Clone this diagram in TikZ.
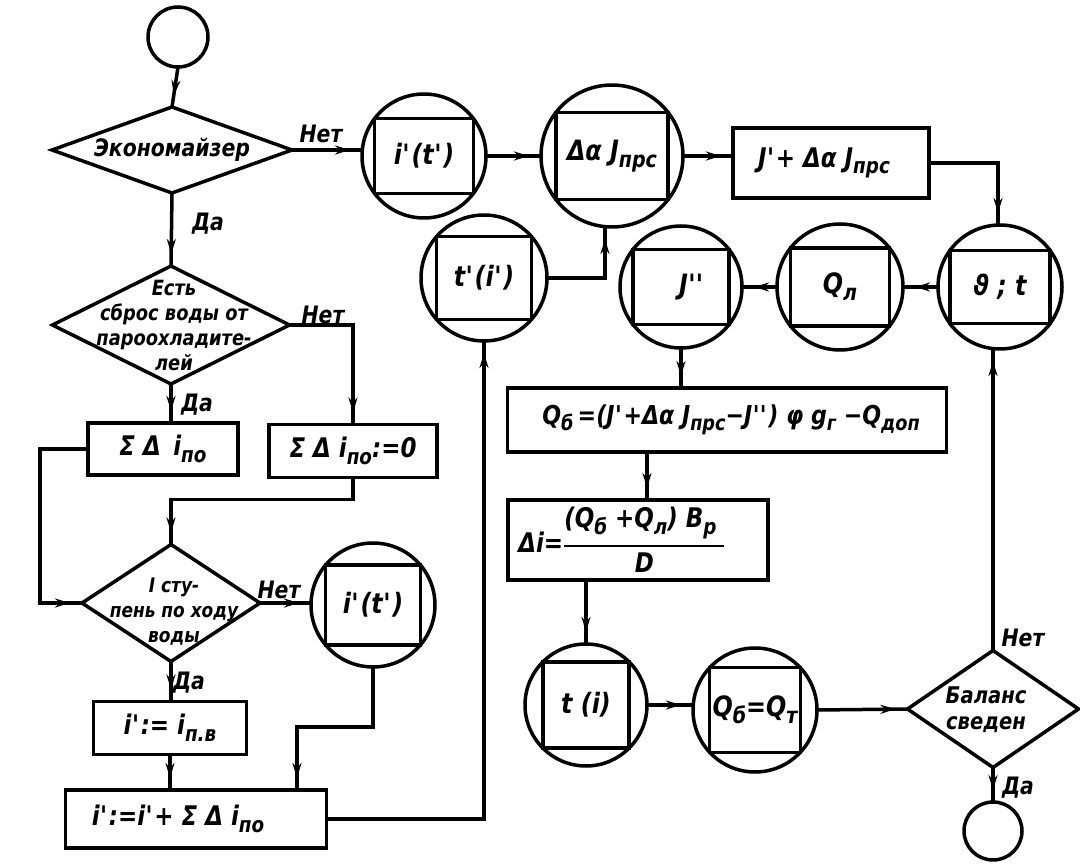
\documentclass[tikz,border=0pt]{standalone}
\usepackage{fontspec}
\newfontfamily\gost[FakeStretch=0.85]{DejaVu Sans}
\usetikzlibrary{shapes.geometric,arrows.meta,decorations.markings,calc}
\newcommand\lo[1]{\raisebox{-0.45ex}{\scalebox{0.8}{#1}}}
\newcommand\pr{\kern0.5pt\textquotesingle\kern0.5pt}
\newcommand\ppr{\kern0.5pt\textquotesingle\kern-1pt\textquotesingle\kern0.5pt}
\newcommand\cbox[5]{%
  \node[cnode,minimum size=#3pt] (#1) at (#2) {};
  \pgfmathtruncatemacro\swang{180+#4}%
  \draw[ln] (#1.\swang) rectangle (#1.#4);
  \node[ctxt] (#1-t) at (#1) {#5};}
\tikzset{
  ln/.style={line width=3.5pt},
  cnode/.style={circle,draw,ln,inner sep=0pt,outer sep=0pt},
  bx/.style={rectangle,draw,ln,inner sep=0pt,outer sep=0pt,font=\gost\bfseries\itshape\fontsize{27}{30}\selectfont},
  dia/.style={diamond,draw,ln,inner sep=0pt,outer sep=0pt},
  txt/.style={font=\gost\bfseries\itshape\fontsize{24}{28}\selectfont,inner sep=0pt},
  ctxt/.style={font=\gost\bfseries\itshape\fontsize{28}{30}\selectfont,inner sep=0pt},
  dtxt/.style={font=\gost\bfseries\itshape\fontsize{21}{25}\selectfont,inner sep=0pt,align=center},
  lbl/.style={font=\gost\bfseries\itshape\fontsize{24}{26}\selectfont,inner sep=0pt},
  arr/.style={ln,postaction={decorate},decoration={markings,mark=at position -12pt with {\arrow{Stealth[length=15pt,width=9pt]}}}},
}
\begin{document}
\begin{tikzpicture}[x=1pt,y=-1pt]
\useasboundingbox (0,0) rectangle (1080,866);
% left column
\node[cnode,minimum size=60pt] (start) at (178,37) {};
\node[dia,minimum width=240pt,minimum height=86pt] (eco) at (172,150) {};
\node[txt] (eco-t) at (eco) {Экономайзер};
\node[dia,minimum width=237pt,minimum height=118pt] (ests) at (171,325) {};
\node[dtxt] (ests-t) at (174,325) {Есть\\сброс воды от\\пароохладите-\\лей};
\node[bx,minimum width=150pt,minimum height=52pt] (sum1) at (163,449) {Σ Δ\, i\lo{по}};
\node[bx,minimum width=168pt,minimum height=53pt] (sum0) at (353,451) {Σ Δ i\lo{по}:=0};
\node[dia,minimum width=178pt,minimum height=117pt] (step1) at (171,603) {};
\node[dtxt,font=\gost\bfseries\itshape\fontsize{20}{25}\selectfont] (step1-t) at (174,612) {I сту-\\пень по ходу\\воды};
\cbox{ic2}{373,605}{124}{40}{i\pr(t\pr)}
\node[bx,minimum width=153pt,minimum height=53pt] (ipv) at (170,728) {i\pr:= i\lo{п.в}};
\node[bx,minimum width=261pt,minimum height=58pt] (iplus) at (196,819) {i\pr:=i\pr + Σ Δ i\lo{по}\hspace*{36pt}};
% upper middle
\cbox{ic1}{424,156}{124}{37}{i\pr(t\pr)}
\cbox{daj}{612,156}{142}{38}{Δα J\lo{прс}}
\cbox{tc}{484,278}{126}{41}{t\pr(i\pr)}
\node[bx,minimum width=196pt,minimum height=70pt] (jbox) at (831,163) {J\pr + Δα J\lo{прс}\hspace*{14pt}};
\cbox{jpp}{681,287}{122}{38}{\hspace*{22pt}J\ppr}
\cbox{ql}{840,287}{126}{38}{Q\lo{л}}
\cbox{yat}{1000,287}{124}{36}{ϑ ; t}
\node[bx,minimum width=439pt,minimum height=64pt,font=\gost\bfseries\itshape\fontsize{26}{30}\selectfont] (qb) at (727,420) {\hspace*{8pt}Q\lo{б}\,=(J\pr+Δα J\lo{прс}−J\ppr) φ g\lo{г} −Q\lo{доп}};
\node[bx,minimum width=260pt,minimum height=80pt] (di) at (638,540) {};
\node[bx,draw=none] (di-t) at (622,540) {Δi=$\displaystyle{\hbox{(Q\lo{б} +Q\lo{л}) B\lo{р}\hspace*{8pt}}\above 2pt\hbox{D}}$};
\cbox{ti}{586,705}{122}{45}{t (i)}
\cbox{qq}{755,710}{124}{43}{Q\lo{б}=Q\lo{т}}
\node[dia,minimum width=171pt,minimum height=117pt] (bal) at (993,709) {};
\node[dtxt,font=\gost\bfseries\itshape\fontsize{23}{26}\selectfont] (bal-t) at (986,710) {Баланс\\сведен};
\node[cnode,minimum size=58pt] (end) at (993,831) {};
% labels
\node[lbl] (l1) at (321,134) {Нет};
\node[lbl] (l2) at (208,224) {Да};
\node[lbl] (l3) at (323,315) {Нет};
\node[lbl] (l4) at (197,405) {Да};
\node[lbl] (l5) at (279,590) {Нет};
\node[lbl] (l6) at (189,683) {Да};
\node[lbl] (l7) at (1023,638) {Нет};
\node[lbl] (l8) at (1018,788) {Да};
% connectors
\draw[arr] (start.south) -- (eco.north);
\draw[arr] (eco.east) -- (eco.east -| ic1.west);
\draw[arr] (eco.south) -- (ests.north);
\draw[arr] (ests.south) -- (sum1.north -| ests.south);
\draw[arr] (ests.east) -| (sum0.north);
\draw[arr] (sum1.west) -- ++(-48,0) |- (step1.west);
\draw[arr] (sum0.south) -- ++(0,22) -| (step1.north);
\draw[arr] (step1.east) -- (step1.east -| ic2.west);
\draw[arr] (step1.south) -- (ipv.north -| step1.south);
\draw[arr] (ipv.south) -- (ipv.south |- iplus.north);
\draw[arr] (ic2.south) -- ++(0,60) -| ([xshift=101pt]iplus.north);
\draw[arr] (iplus.east) -| (tc.south);
\draw[arr] (ic1.east) -- (daj.west);
\draw[arr] (tc.east) -| ([xshift=-7pt]daj.south);
\draw[arr] (daj.east) -- (daj.east -| jbox.west);
\draw[arr] (jbox.east) -| ([xshift=-2pt]yat.north);
\draw[arr] (yat.west) -- (ql.east);
\draw[arr] (ql.west) -- (jpp.east);
\draw[arr] (jpp.south) -- (jpp.south |- qb.north);
\coordinate (d1) at ([xshift=9pt]di.north);
\draw[arr] (d1 |- qb.south) -- (d1);
\draw[arr] (di.south -| ti.north) -- (ti.north);
\draw[arr] (ti.east) -- (ti.east -| qq.west);
\draw[arr] (qq.east) -- (bal.west);
\draw[arr] (bal.north) -- (bal.north |- yat.south);
\draw[arr] (bal.south) -- (end.north);
\end{tikzpicture}
\end{document}
